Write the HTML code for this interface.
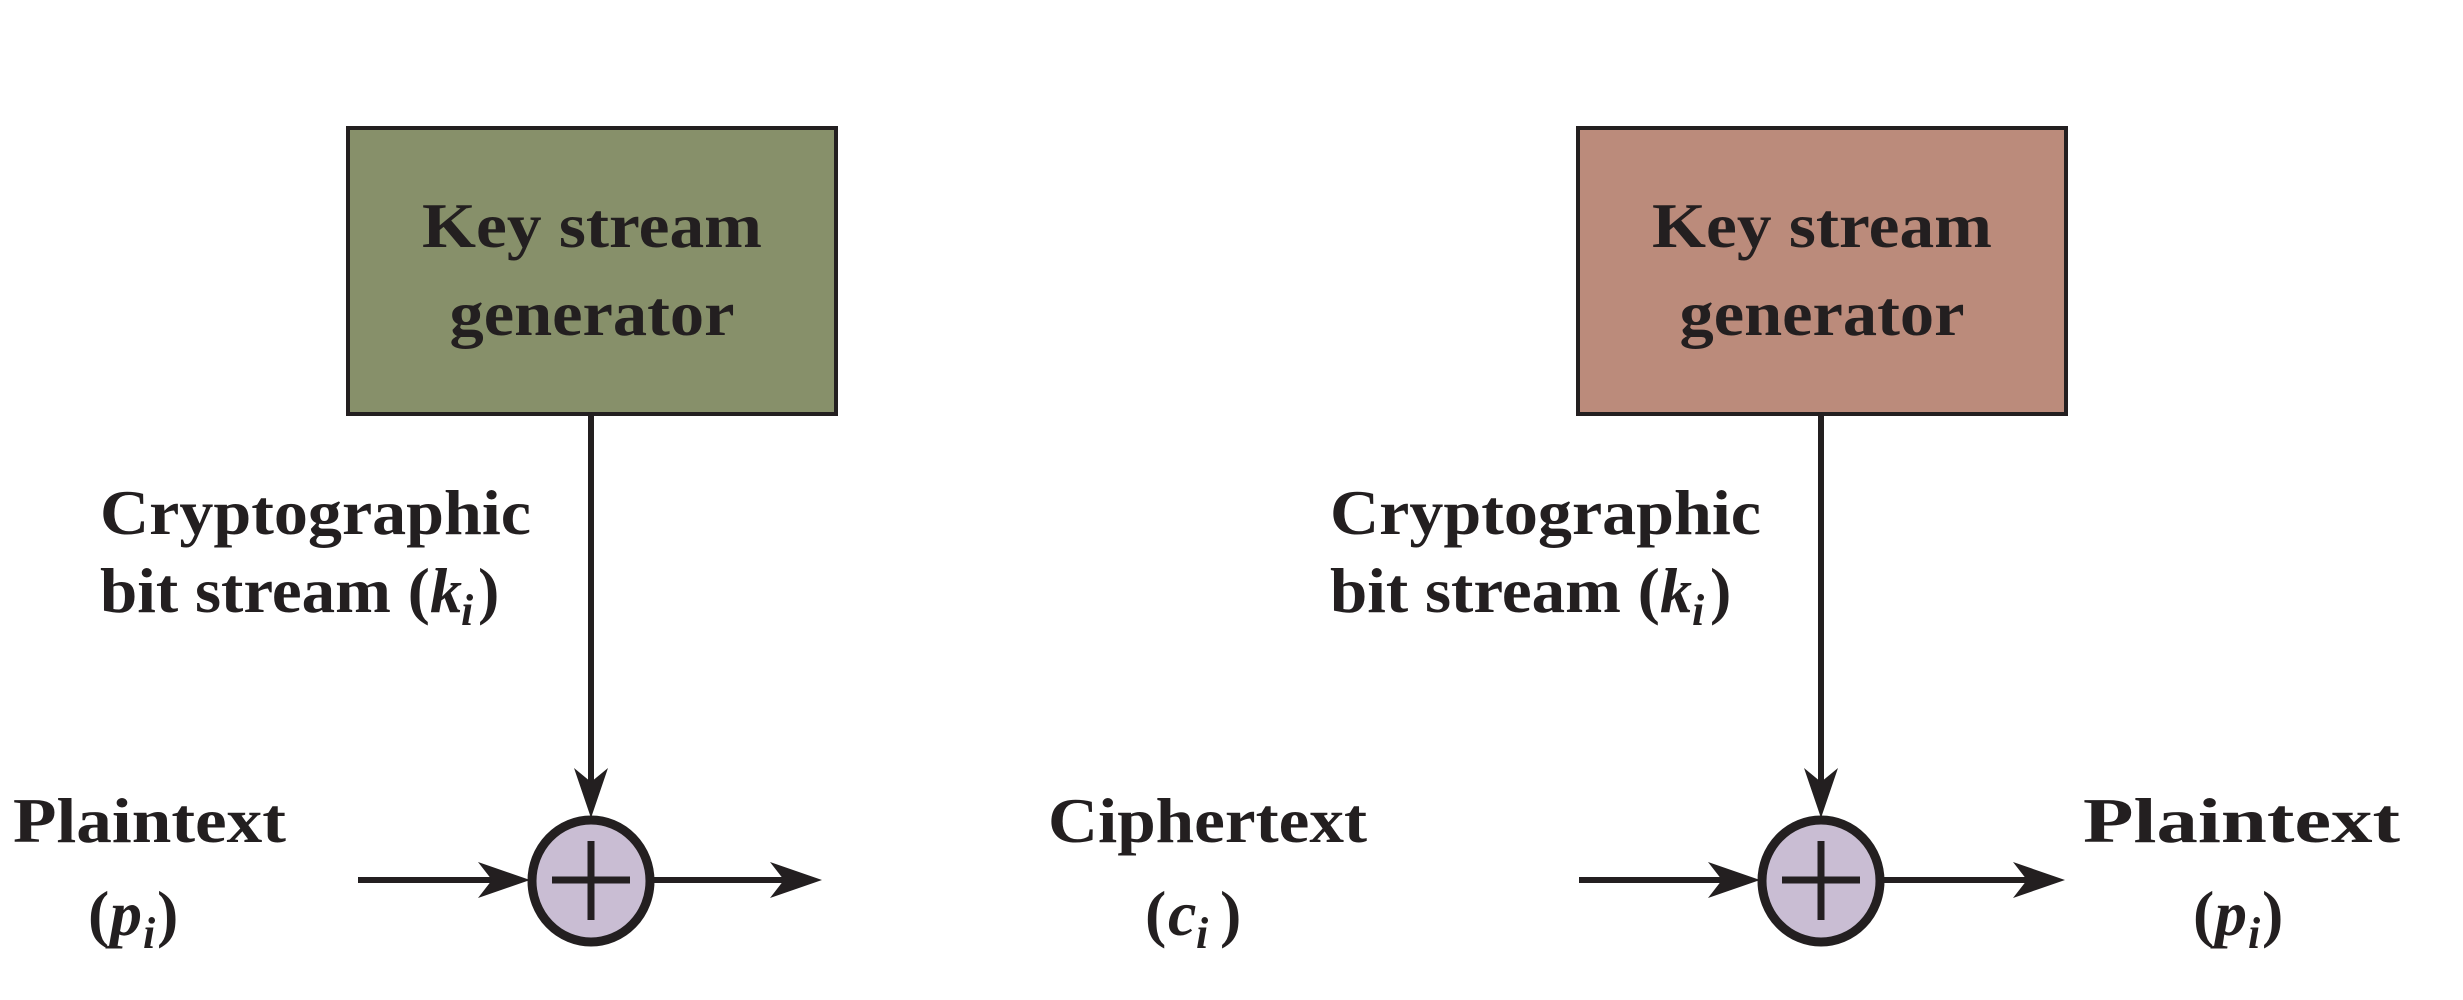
<!DOCTYPE html>
<html><head><meta charset="utf-8"><style>
html,body{margin:0;padding:0;background:#fff;}
svg{display:block;}
text{font-family:"Liberation Serif",serif;font-weight:bold;fill:#231f20;}
</style></head><body>
<svg width="2463" height="1000" viewBox="0 0 2463 1000" xmlns="http://www.w3.org/2000/svg">
<defs>
<marker id="ah" markerWidth="10" markerHeight="10" refX="9" refY="5" orient="auto" markerUnits="userSpaceOnUse" viewBox="0 0 10 10">
</marker>
</defs>
<!-- Left -->
<rect x="348" y="128" width="488" height="286" fill="#87906a" stroke="#231f20" stroke-width="4"/>
<text x="592" y="247" font-size="64" text-anchor="middle" textLength="340" lengthAdjust="spacingAndGlyphs">Key stream</text>
<text x="592" y="335" font-size="64" text-anchor="middle" textLength="285" lengthAdjust="spacingAndGlyphs">generator</text>
<line x1="591" y1="414" x2="591" y2="790" stroke="#231f20" stroke-width="6"/>
<polygon points="591,818 574,768 591,782 608,768" fill="#231f20"/>
<text x="100" y="534" font-size="64" textLength="431" lengthAdjust="spacingAndGlyphs">Cryptographic</text>
<text x="100" y="612" font-size="64" textLength="330" lengthAdjust="spacingAndGlyphs">bit stream (</text>
<text x="430" y="612" font-size="64" font-style="italic">k</text>
<text x="461" y="625" font-size="44" font-style="italic">i</text>
<text x="478" y="612" font-size="64">)</text>
<line x1="358" y1="880" x2="500" y2="880" stroke="#231f20" stroke-width="6"/>
<polygon points="530,880 478,862 492,880 478,898" fill="#231f20"/>
<ellipse cx="591" cy="881" rx="59" ry="61" fill="#c9bdd3" stroke="#231f20" stroke-width="9"/>
<line x1="552" y1="880" x2="630" y2="880" stroke="#231f20" stroke-width="7"/>
<line x1="591" y1="841" x2="591" y2="920" stroke="#231f20" stroke-width="7"/>
<line x1="654" y1="880" x2="800" y2="880" stroke="#231f20" stroke-width="6"/>
<polygon points="822,880 770,862 784,880 770,898" fill="#231f20"/>
<text x="13" y="842" font-size="64" textLength="273" lengthAdjust="spacingAndGlyphs">Plaintext</text>
<text x="88" y="935" font-size="64">(</text>
<text x="110" y="935" font-size="64" font-style="italic">p</text>
<text x="143" y="948" font-size="44" font-style="italic">i</text>
<text x="157" y="935" font-size="64">)</text>
<text x="1048" y="842" font-size="64" textLength="319" lengthAdjust="spacingAndGlyphs">Ciphertext</text>
<text x="1145" y="935" font-size="64">(</text>
<text x="1168" y="935" font-size="64" font-style="italic">c</text>
<text x="1196" y="948" font-size="44" font-style="italic">i</text>
<text x="1220" y="935" font-size="64">)</text>
<!-- Right -->
<rect x="1578" y="128" width="488" height="286" fill="#bb8b7b" stroke="#231f20" stroke-width="4"/>
<text x="1822" y="247" font-size="64" text-anchor="middle" textLength="340" lengthAdjust="spacingAndGlyphs">Key stream</text>
<text x="1822" y="335" font-size="64" text-anchor="middle" textLength="285" lengthAdjust="spacingAndGlyphs">generator</text>
<line x1="1821" y1="414" x2="1821" y2="790" stroke="#231f20" stroke-width="6"/>
<polygon points="1821,818 1804,768 1821,782 1838,768" fill="#231f20"/>
<text x="1330" y="534" font-size="64" textLength="431" lengthAdjust="spacingAndGlyphs">Cryptographic</text>
<text x="1330" y="612" font-size="64" textLength="330" lengthAdjust="spacingAndGlyphs">bit stream (</text>
<text x="1660" y="612" font-size="64" font-style="italic">k</text>
<text x="1692" y="625" font-size="44" font-style="italic">i</text>
<text x="1710" y="612" font-size="64">)</text>
<line x1="1579" y1="880" x2="1730" y2="880" stroke="#231f20" stroke-width="6"/>
<polygon points="1760,880 1708,862 1722,880 1708,898" fill="#231f20"/>
<ellipse cx="1821" cy="881" rx="59" ry="61" fill="#c9bdd3" stroke="#231f20" stroke-width="9"/>
<line x1="1782" y1="880" x2="1860" y2="880" stroke="#231f20" stroke-width="7"/>
<line x1="1821" y1="841" x2="1821" y2="920" stroke="#231f20" stroke-width="7"/>
<line x1="1884" y1="880" x2="2040" y2="880" stroke="#231f20" stroke-width="6"/>
<polygon points="2065,880 2013,862 2027,880 2013,898" fill="#231f20"/>
<text x="2083" y="842" font-size="64" textLength="317" lengthAdjust="spacingAndGlyphs">Plaintext</text>
<text x="2193" y="935" font-size="64">(</text>
<text x="2215" y="935" font-size="64" font-style="italic">p</text>
<text x="2248" y="948" font-size="44" font-style="italic">i</text>
<text x="2262" y="935" font-size="64">)</text>
</svg>
</body></html>
